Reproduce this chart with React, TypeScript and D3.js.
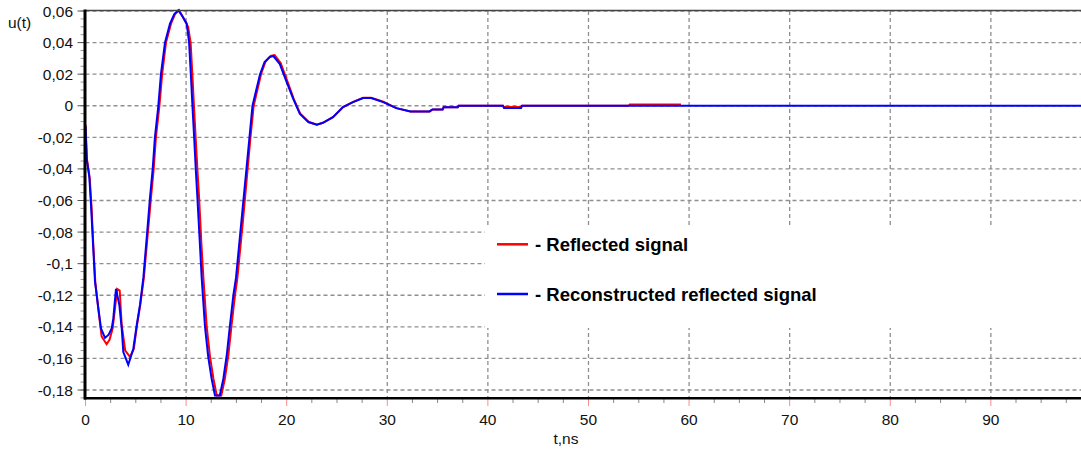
import React from "react";
import * as d3 from "d3";

const reconstructedT = [0, 0.12, 0.38, 0.55, 0.72, 0.94, 1.27, 1.54, 1.94, 2.3, 2.6, 2.76, 3.03, 3.36, 3.6, 3.76, 4.25, 4.75, 5.09, 5.42, 5.75, 6.08, 6.4, 6.68, 6.9, 7.24, 7.5, 7.9, 8.4, 8.83, 9.22, 9.6, 10.06, 10.3, 10.47, 10.63, 10.8, 10.96, 11.13, 11.35, 11.55, 11.88, 12.2, 12.54, 12.87, 13.35, 13.7, 14.04, 14.36, 14.7, 14.96, 15.5, 16.3, 16.6, 17.35, 17.8, 18.3, 18.67, 19.3, 20, 20.65, 21.3, 22.15, 23, 23.6, 24.6, 25.6, 26.6, 27.6, 28.4, 29.6, 30.9, 32.3, 34.2, 34.5, 35.5, 35.6, 37, 37.1, 41.5, 41.6, 43.3, 43.4, 99];
const reconstructedU = [-0.013, -0.034, -0.045, -0.063, -0.084, -0.111, -0.128, -0.141, -0.147, -0.145, -0.141, -0.135, -0.116, -0.126, -0.141, -0.156, -0.164, -0.154, -0.139, -0.126, -0.109, -0.084, -0.059, -0.04, -0.02, 0, 0.02, 0.04, 0.052, 0.058, 0.0605, 0.057, 0.052, 0.04, 0.02, 0, -0.02, -0.04, -0.059, -0.085, -0.109, -0.14, -0.159, -0.173, -0.1835, -0.1835, -0.173, -0.158, -0.139, -0.12, -0.109, -0.073, -0.02, 0, 0.02, 0.0277, 0.0308, 0.0315, 0.0266, 0.015, 0.0044, -0.005, -0.0103, -0.012, -0.0108, -0.0072, -0.0008, 0.0023, 0.0049, 0.0049, 0.0023, -0.0015, -0.0036, -0.0036, -0.0023, -0.0023, -0.001, -0.001, 0, 0, -0.0015, -0.0015, 0, 0];

const reflectedT = [0, 0.15, 0.42, 0.6, 0.76, 0.98, 1.3, 1.6, 2.1, 2.4, 2.7, 2.9, 3.15, 3.4, 3.6, 3.95, 4.42, 4.8, 5.12, 5.45, 5.8, 6.15, 6.5, 6.78, 7.0, 7.35, 7.62, 8.0, 8.5, 8.9, 9.3, 9.7, 10.2, 10.45, 10.62, 10.78, 10.95, 11.12, 11.3, 11.5, 11.72, 12.05, 12.38, 12.72, 13.05, 13.5, 13.85, 14.2, 14.52, 14.86, 15.1, 15.65, 16.4, 16.72, 17.45, 17.9, 18.4, 18.8, 19.4, 20.1, 20.7, 21.35, 22.2, 23, 23.6, 24.6, 25.6, 26.6, 27.6, 28.4, 29.6, 30.9, 32.3, 34.2, 34.5, 35.5, 35.6, 37, 37.1, 41.5, 41.6, 43.3, 43.4, 54, 54.1, 59.2];
const reflectedU = [-0.012, -0.034, -0.046, -0.064, -0.086, -0.112, -0.13, -0.146, -0.151, -0.148, -0.141, -0.13, -0.116, -0.117, -0.139, -0.155, -0.159, -0.154, -0.139, -0.126, -0.109, -0.084, -0.059, -0.04, -0.02, 0, 0.02, 0.04, 0.052, 0.058, 0.0605, 0.056, 0.05, 0.04, 0.02, 0, -0.02, -0.04, -0.059, -0.085, -0.109, -0.14, -0.159, -0.173, -0.1835, -0.1835, -0.173, -0.158, -0.139, -0.12, -0.109, -0.073, -0.02, 0, 0.02, 0.028, 0.0315, 0.032, 0.027, 0.015, 0.0044, -0.005, -0.0103, -0.012, -0.0108, -0.0072, -0.0008, 0.0025, 0.005, 0.005, 0.0025, -0.0015, -0.0036, -0.0036, -0.0023, -0.0023, -0.001, -0.001, 0, 0, -0.0008, -0.0008, 0, 0, 0.0008, 0.0008];

const xTickValues = [0, 10, 20, 30, 40, 50, 60, 70, 80, 90];
const xTickLabels = ["0", "10", "20", "30", "40", "50", "60", "70", "80", "90"];
const yTickValues = [0.06, 0.04, 0.02, 0, -0.02, -0.04, -0.06, -0.08, -0.1, -0.12, -0.14, -0.16, -0.18];
const yTickLabels = ["0,06", "0,04", "0,02", "0", "-0,02", "-0,04", "-0,06", "-0,08", "-0,1", "-0,12", "-0,14", "-0,16", "-0,18"];
const legendLabels = ["- Reflected signal", "- Reconstructed reflected signal"];

const W = 1081;
const H = 454;
const FONT = "'Liberation Sans', Arial, sans-serif";

export default function App() {
  const x = d3.scaleLinear().domain([0, 99]).range([85.5, 1081.4]);
  const y = d3.scaleLinear().domain([-0.185, 0.06]).range([397.9, 11]);
  const line = d3
    .line<[number, number]>()
    .x((d) => x(d[0]))
    .y((d) => y(d[1]));
  const red = reflectedT.map((t, i) => [t, reflectedU[i]] as [number, number]);
  const blue = reconstructedT.map((t, i) => [t, reconstructedU[i]] as [number, number]);

  const minorX = d3.range(0, 99.01, 2.5).filter((v) => v % 10 !== 0);
  const minorY = d3.range(-0.185, 0.0601, 0.005).map((v) => Math.round(v * 1000) / 1000);
  const x0 = x(0);
  const yB = y(-0.185);
  const grid = "#8f8f8f";

  return (
    <svg
      width={W}
      height={H}
      style={{ position: "absolute", left: 0, top: 0, background: "#fff" }}
    >
      <rect x={0} y={0} width={W} height={H} fill="#fff" />
      {/* grid */}
      {yTickValues.map((v) => (
        <line key={"gy" + v} x1={x0} x2={W} y1={y(v)} y2={y(v)} stroke={grid} strokeWidth={1.3} strokeDasharray="4,3" />
      ))}
      {xTickValues.filter((v) => v > 0).map((v) => (
        <line key={"gx" + v} x1={x(v)} x2={x(v)} y1={y(0.06)} y2={yB} stroke={grid} strokeWidth={1.3} strokeDasharray="4,3" />
      ))}
      {/* legend background */}
      <rect x={485} y={228} width={W - 485} height={100} fill="#fff" />
      {/* curves */}
      <path d={line(red) || ""} fill="none" stroke="#ff0000" strokeWidth={2} />
      <path d={line(blue) || ""} fill="none" stroke="#0000ff" strokeWidth={2} />
      {/* top border */}
      <line x1={x0} x2={W} y1={10.5} y2={10.5} stroke="#444" strokeWidth={1.5} />
      {/* y ticks */}
      {minorY.map((v) => (
        <line key={"my" + v} x1={80.5} x2={84} y1={y(v)} y2={y(v)} stroke="#999" strokeWidth={1} />
      ))}
      {yTickValues.map((v) => (
        <line key={"ty" + v} x1={77.5} x2={84} y1={y(v)} y2={y(v)} stroke="#555" strokeWidth={1} />
      ))}
      {yTickValues.map((v, i) => (
        <text key={"ly" + v} x={73} y={y(v)} dy="0.36em" textAnchor="end" fontFamily={FONT} fontSize={15.5} fill="#111">
          {yTickLabels[i]}
        </text>
      ))}
      {/* x ticks */}
      {minorX.map((v) => (
        <line key={"mx" + v} x1={x(v)} x2={x(v)} y1={399} y2={403} stroke="#888" strokeWidth={1} />
      ))}
      {xTickValues.map((v) => (
        <line key={"tx" + v} x1={x(v)} x2={x(v)} y1={399} y2={406} stroke="#ff8a8a" strokeWidth={1} />
      ))}
      {xTickValues.map((v, i) => (
        <text key={"lx" + v} x={x(v)} y={425} textAnchor="middle" fontFamily={FONT} fontSize={15.5} fill="#111">
          {xTickLabels[i]}
        </text>
      ))}
      {/* axes */}
      <line x1={85} x2={85} y1={9.5} y2={399.5} stroke="#000" strokeWidth={3} />
      <line x1={84} x2={W} y1={398.3} y2={398.3} stroke="#000" strokeWidth={2.6} />
      {/* axis titles */}
      <text x={8} y={27.5} fontFamily={FONT} fontSize={15.5} fill="#111">u(t)</text>
      <text x={566} y={444} textAnchor="middle" fontFamily={FONT} fontSize={15.5} fill="#111">t,ns</text>
      {/* legend */}
      <line x1={497} x2={528} y1={244.3} y2={244.3} stroke="#ff0000" strokeWidth={2.5} />
      <text x={535} y={250.7} fontFamily={FONT} fontSize={18.5} fontWeight="bold" fill="#000">{legendLabels[0]}</text>
      <line x1={497} x2={528} y1={294} y2={294} stroke="#0000ff" strokeWidth={2.5} />
      <text x={535} y={300.7} fontFamily={FONT} fontSize={18.5} fontWeight="bold" fill="#000">{legendLabels[1]}</text>
    </svg>
  );
}
